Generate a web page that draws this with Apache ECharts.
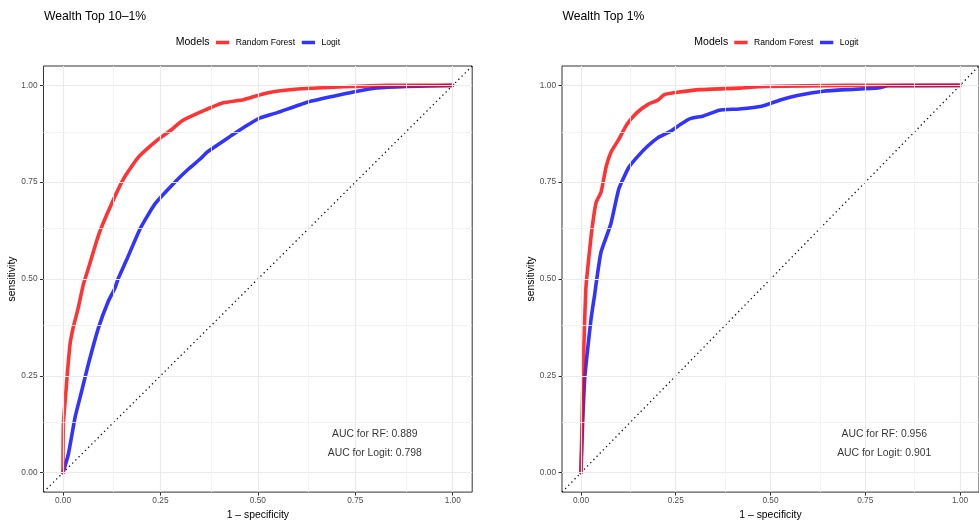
<!DOCTYPE html>
<html>
<head>
<meta charset="utf-8">
<script src="https://cdn.jsdelivr.net/npm/echarts@6/dist/echarts.min.js"></script>
<style>
html,body{margin:0;padding:0;background:#fff;}
#chart{width:979px;height:525px;}
</style>
</head>
<body>
<div id="chart"></div>
<script>
// ---------- DATA ----------
const panelTitles = ['Wealth Top 10\u20131%', 'Wealth Top 1%'];
const modelNames = ['Random Forest', 'Logit'];
const aucLabels = [
  ['AUC for RF: 0.889', 'AUC for Logit: 0.798'],
  ['AUC for RF: 0.956', 'AUC for Logit: 0.901']
];
const aucPosX = [0.8, 0.8];
const aucPosY = [0.1, 0.05];

const majorTicks = [0, 0.25, 0.5, 0.75, 1];
const minorTicks = [0.125, 0.375, 0.625, 0.875];

// Panel 1: Wealth Top 10-1%
const rfTop10X = [0, 0.001, 0.007, 0.011, 0.018, 0.026, 0.039, 0.052, 0.065, 0.091, 0.121, 0.155, 0.193, 0.245, 0.279, 0.305, 0.355, 0.411, 0.463, 0.506, 0.548, 0.625, 0.737, 0.83, 1];
const rfTop10Y = [0, 0.126, 0.203, 0.254, 0.331, 0.374, 0.425, 0.485, 0.527, 0.613, 0.686, 0.758, 0.814, 0.861, 0.886, 0.908, 0.932, 0.955, 0.963, 0.976, 0.985, 0.992, 0.997, 1.0, 1];
const logitTop10X = [0, 0.014, 0.031, 0.048, 0.065, 0.091, 0.116, 0.133, 0.142, 0.163, 0.198, 0.236, 0.287, 0.322, 0.352, 0.369, 0.386, 0.424, 0.437, 0.476, 0.506, 0.548, 0.625, 0.694, 0.745, 0.805, 0.882, 1];
const logitTop10Y = [0, 0.049, 0.143, 0.211, 0.28, 0.374, 0.442, 0.476, 0.502, 0.549, 0.63, 0.694, 0.75, 0.784, 0.81, 0.827, 0.839, 0.865, 0.874, 0.899, 0.916, 0.929, 0.956, 0.972, 0.983, 0.993, 0.997, 1];

// Panel 2: Wealth Top 1%
const rfTop1X = [0, 0.003, 0.006, 0.01, 0.013, 0.015, 0.027, 0.04, 0.053, 0.066, 0.079, 0.1, 0.121, 0.147, 0.177, 0.203, 0.22, 0.254, 0.314, 0.417, 0.485, 0.699, 1];
const rfTop1Y = [0, 0.143, 0.271, 0.4, 0.476, 0.5, 0.613, 0.698, 0.724, 0.788, 0.827, 0.861, 0.899, 0.929, 0.951, 0.962, 0.976, 0.982, 0.989, 0.993, 0.997, 1.0, 1];
const logitTop1X = [0, 0.004, 0.01, 0.019, 0.027, 0.036, 0.042, 0.053, 0.079, 0.1, 0.126, 0.151, 0.177, 0.203, 0.237, 0.262, 0.288, 0.323, 0.365, 0.417, 0.477, 0.528, 0.571, 0.639, 0.699, 0.784, 0.81, 1];
const logitTop1Y = [0, 0.117, 0.245, 0.331, 0.4, 0.459, 0.502, 0.57, 0.643, 0.733, 0.788, 0.818, 0.844, 0.865, 0.882, 0.899, 0.914, 0.921, 0.936, 0.939, 0.946, 0.963, 0.974, 0.985, 0.989, 0.993, 0.999, 1];

const diagX = [-0.05, 1.05];
const diagY = [-0.05, 1.05];

// ---------- BUILD ----------
const zip = (xs, ys) => xs.map((x, i) => [x, ys[i]]);
const panels = [
  { rf: zip(rfTop10X, rfTop10Y), logit: zip(logitTop10X, logitTop10Y) },
  { rf: zip(rfTop1X, rfTop1Y), logit: zip(logitTop1X, logitTop1Y) }
];

const RED = 'rgba(255,0,0,0.8)';
const BLUE = 'rgba(0,0,255,0.8)';
const FONT = 'Liberation Sans, Arial, Helvetica, sans-serif';
const gridLefts = [43.5, 562];
const W = 428.7, H = 429, TOP = 66;

const grids = [], xAxes = [], yAxes = [], series = [], titles = [], legends = [];

panels.forEach((p, i) => {
  grids.push({ left: gridLefts[i], top: TOP, width: W, height: H, show: true,
    borderColor: '#333', borderWidth: 1, backgroundColor: 'transparent', containLabel: false });
  const commonAxis = {
    type: 'value', min: -0.05, max: 1.05, gridIndex: i,
    axisLine: { show: false, onZero: false },
    axisTick: { show: true, length: 3.5, customValues: majorTicks, lineStyle: { color: '#333', width: 1 } },
    axisLabel: { customValues: majorTicks, formatter: v => v.toFixed(2), color: '#4d4d4d',
      fontSize: 8.3, fontFamily: FONT },
    splitLine: { show: false }, minorSplitLine: { show: false },
    nameTextStyle: { color: '#000', fontSize: 10.4, fontFamily: FONT },
    nameLocation: 'middle'
  };
  xAxes.push(Object.assign({}, commonAxis, {
    name: '1 \u2013 specificity', nameGap: 15,
    axisLabel: Object.assign({}, commonAxis.axisLabel, { margin: 5 })
  }));
  yAxes.push(Object.assign({}, commonAxis, {
    name: 'sensitivity', nameGap: 24,
    axisLabel: Object.assign({}, commonAxis.axisLabel, { margin: 6 })
  }));

  const gridLineData = [];
  majorTicks.forEach(v => {
    gridLineData.push({ xAxis: v, lineStyle: { color: '#ebebeb', width: 1.2, type: 'solid' } });
    gridLineData.push({ yAxis: v, lineStyle: { color: '#ebebeb', width: 1.2, type: 'solid' } });
  });
  minorTicks.forEach(v => {
    gridLineData.push({ xAxis: v, lineStyle: { color: '#f0f0f0', width: 0.8, type: 'solid' } });
    gridLineData.push({ yAxis: v, lineStyle: { color: '#f0f0f0', width: 0.8, type: 'solid' } });
  });
  series.push({
    type: 'line', name: 'grid' + i, xAxisIndex: i, yAxisIndex: i, data: [], z: 1,
    silent: true, showSymbol: false,
    markLine: { silent: true, symbol: 'none', label: { show: false }, animation: false, data: gridLineData }
  });
  series.push({
    type: 'line', name: 'diag' + i, xAxisIndex: i, yAxisIndex: i, z: 2, silent: true,
    data: zip(diagX, diagY), showSymbol: false, symbol: 'none',
    lineStyle: { color: '#111', width: 1.3, type: [1.3, 3.2] }
  });
  series.push({
    type: 'line', name: 'Logit', xAxisIndex: i, yAxisIndex: i, z: 3,
    data: p.logit, showSymbol: false, symbol: 'none', smooth: 0.15,
    lineStyle: { color: BLUE, width: 3.6, join: 'round', cap: 'round' }, itemStyle: { color: BLUE }
  });
  series.push({
    type: 'line', name: 'Random Forest', xAxisIndex: i, yAxisIndex: i, z: 4,
    data: p.rf, showSymbol: false, symbol: 'none', smooth: 0.15,
    lineStyle: { color: RED, width: 3.6, join: 'round', cap: 'round' }, itemStyle: { color: RED }
  });
  series.push({
    type: 'scatter', name: 'auc' + i, xAxisIndex: i, yAxisIndex: i, z: 5, silent: true,
    symbolSize: 0,
    data: aucLabels[i].map((t, k) => ({ value: [aucPosX[k], aucPosY[k]], name: t })),
    label: { show: true, position: 'inside', formatter: '{b}', color: '#000', fontSize: 10.4, fontFamily: FONT }
  });

  titles.push({ text: panelTitles[i], left: gridLefts[i] + 0.5, top: 11, padding: 0,
    textStyle: { color: '#000', fontSize: 12.2, fontWeight: 'normal', fontFamily: FONT } });
  titles.push({ text: 'Models', left: [175.7, 694.3][i], top: 37, padding: 0,
    textStyle: { color: '#000', fontSize: 10.5, fontWeight: 'normal', fontFamily: FONT } });
  legends.push({
    data: modelNames, left: [216, 734.3][i], top: 38, padding: 0, orient: 'horizontal',
    icon: 'rect', itemWidth: 13.3, itemHeight: 3.5, itemGap: 6.7,
    selectedMode: false,
    textStyle: { color: '#000', fontSize: 8.6, fontFamily: FONT, padding: [0, 0, 0, 1.5] }
  });
});

const chart = echarts.init(document.getElementById('chart'), null, { renderer: 'canvas' });
chart.setOption({
  animation: false,
  backgroundColor: '#fff',
  title: titles,
  legend: legends,
  grid: grids,
  xAxis: xAxes,
  yAxis: yAxes,
  series: series
});
</script>
</body>
</html>
